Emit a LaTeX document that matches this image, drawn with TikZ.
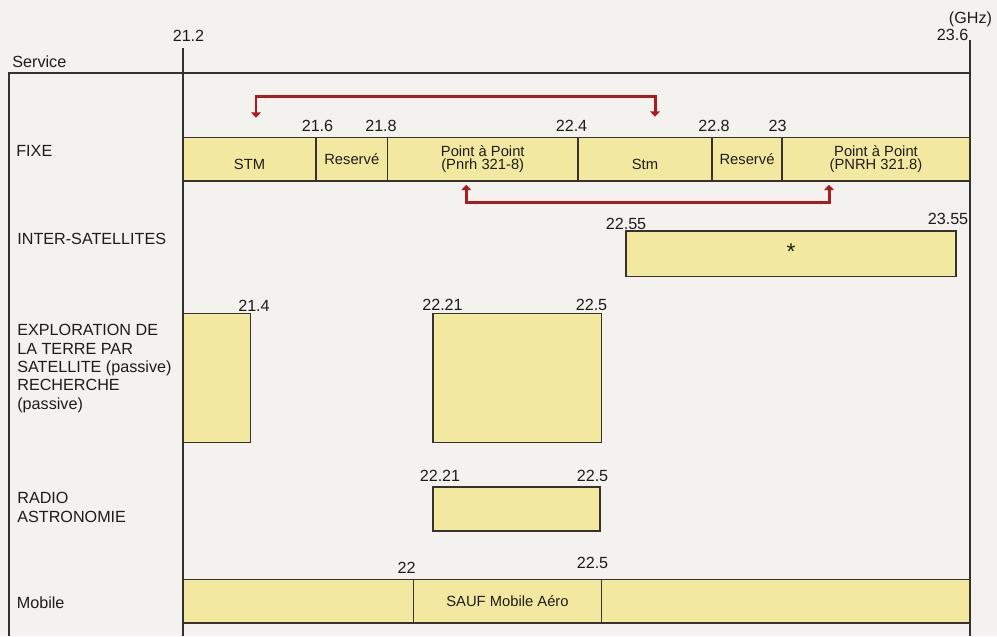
\documentclass[tikz,border=0pt]{standalone}
\usepackage{fontspec}
\setmainfont{Liberation Sans}
\usetikzlibrary{fit,arrows.meta}
\definecolor{paper}{RGB}{243,242,239}
\definecolor{bandfill}{RGB}{242,232,160}
\definecolor{edge}{RGB}{55,50,45}
\definecolor{ink}{RGB}{30,28,26}
\definecolor{linkred}{RGB}{170,28,30}
\tikzset{
  frame/.style={draw=edge,line width=0.9pt},
  cell/.style={draw=edge,fill=bandfill,line width=0.9pt,inner sep=0pt},
  celltext/.style={inner sep=0pt,align=center,text=ink,font=\fontsize{8.4}{7.4}\selectfont},
  svc/.style={anchor=west,align=left,inner sep=0pt,text=ink,font=\fontsize{9.2}{10.4}\selectfont},
  freq/.style={inner sep=0pt,text=ink,font=\fontsize{9.2}{10.4}\selectfont},
  bracket/.style={draw=linkred,line width=1.7pt,
    {Triangle[length=3pt,width=5.5pt]}-{Triangle[length=3pt,width=5.5pt]}},
}
\begin{document}
\begin{tikzpicture}[x=0.02cm,y=-0.02cm]
\fill[paper] (0,0) rectangle (997,636);
\useasboundingbox (0,0) rectangle (997,636);
% frame and band edges
\draw[frame] (9,636) -- (9,73) -- (970,73);
\draw[frame] (183,48) -- (183,636);
\draw[frame] (970,40) -- (970,636);
\node[freq] (f212) at (188.5,36) {21.2};
\node[freq] (ghz) at (970.5,19) {(GHz)};
\node[freq] (f236) at (952.5,35) {23.6};
\node[svc] (service) at (12,62) {Service};
% FIXE
\node[svc] (fixe) at (16,150.5) {FIXE};
\node[cell,fit={(183,137.5) (316,181)},label={[celltext,yshift=-2.7pt]center:STM}] (stm) {};
\node[cell,fit={(316,137.5) (387.5,181)},label={[celltext]center:Reservé}] (res1) {};
\node[cell,fit={(387.5,137.5) (578,181)},label={[celltext]center:Point à Point\\(Pnrh 321-8)}] (pp1) {};
\node[cell,fit={(578,137.5) (712,181)},label={[celltext,yshift=-2.7pt]center:Stm}] (stm2) {};
\node[cell,fit={(712,137.5) (782,181)},label={[celltext]center:Reservé}] (res2) {};
\node[cell,fit={(782,137.5) (970,181)},label={[celltext]center:Point à Point\\(PNRH 321.8)}] (pp2) {};
\node[freq] (f216) at (317.5,125.5) {21.6};
\node[freq] (f218) at (381,125.5) {21.8};
\node[freq] (f224) at (571.5,125.5) {22.4};
\node[freq] (f228) at (714,125.5) {22.8};
\node[freq] (f23) at (777.5,125.5) {23};
\draw[bracket] ([shift={(6.5,-19)}]stm.north) -- ++(0,-21) -| ([shift={(10,-20)}]stm2.north);
\draw[bracket] ([shift={(-16.5,3)}]pp1.south) -- ++(0,18) -| ([shift={(-47,3)}]pp2.south);
% INTER-SATELLITES
\node[svc] (inter) at (17,239) {INTER-SATELLITES};
\node[cell,fit={(626,231) (956,276.5)},label={[celltext,font=\fontsize{13}{13}\selectfont,yshift=1pt]center:*}] (isl) {};
\node[freq] (f2255) at (626,224) {22.55};
\node[freq] (f2355) at (948,218.5) {23.55};
% EXPLORATION
\node[svc] (eess) at (17,368.5) {EXPLORATION DE\\LA TERRE PAR\\SATELLITE (passive)\\RECHERCHE\\(passive)};
\node[cell,fit={(183,313.5) (250.5,442.5)}] (eess1) {};
\node[cell,fit={(433,313.5) (601.5,442.5)}] (eess2) {};
\node[freq] (f214) at (254,306) {21.4};
\node[freq] (f2221a) at (442.5,305) {22.21};
\node[freq] (f225a) at (591.5,304.5) {22.5};
% RADIO ASTRONOMIE
\node[svc] (ras) at (17,507.5) {RADIO\\ASTRONOMIE};
\node[cell,fit={(433,487) (600,531)}] (ras1) {};
\node[freq] (f2221b) at (440,476) {22.21};
\node[freq] (f225b) at (592.5,476) {22.5};
% Mobile
\node[svc] (mob) at (16.5,602.5) {Mobile};
\node[cell,fit={(183,579.5) (413.5,623)}] (mob1) {};
\node[cell,fit={(413.5,579.5) (601.5,623)},label={[celltext]center:SAUF Mobile Aéro}] (mob2) {};
\node[cell,fit={(601.5,579.5) (970,623)}] (mob3) {};
\node[freq] (f22) at (406.5,568) {22};
\node[freq] (f225c) at (592.5,563) {22.5};
\end{tikzpicture}
\end{document}
